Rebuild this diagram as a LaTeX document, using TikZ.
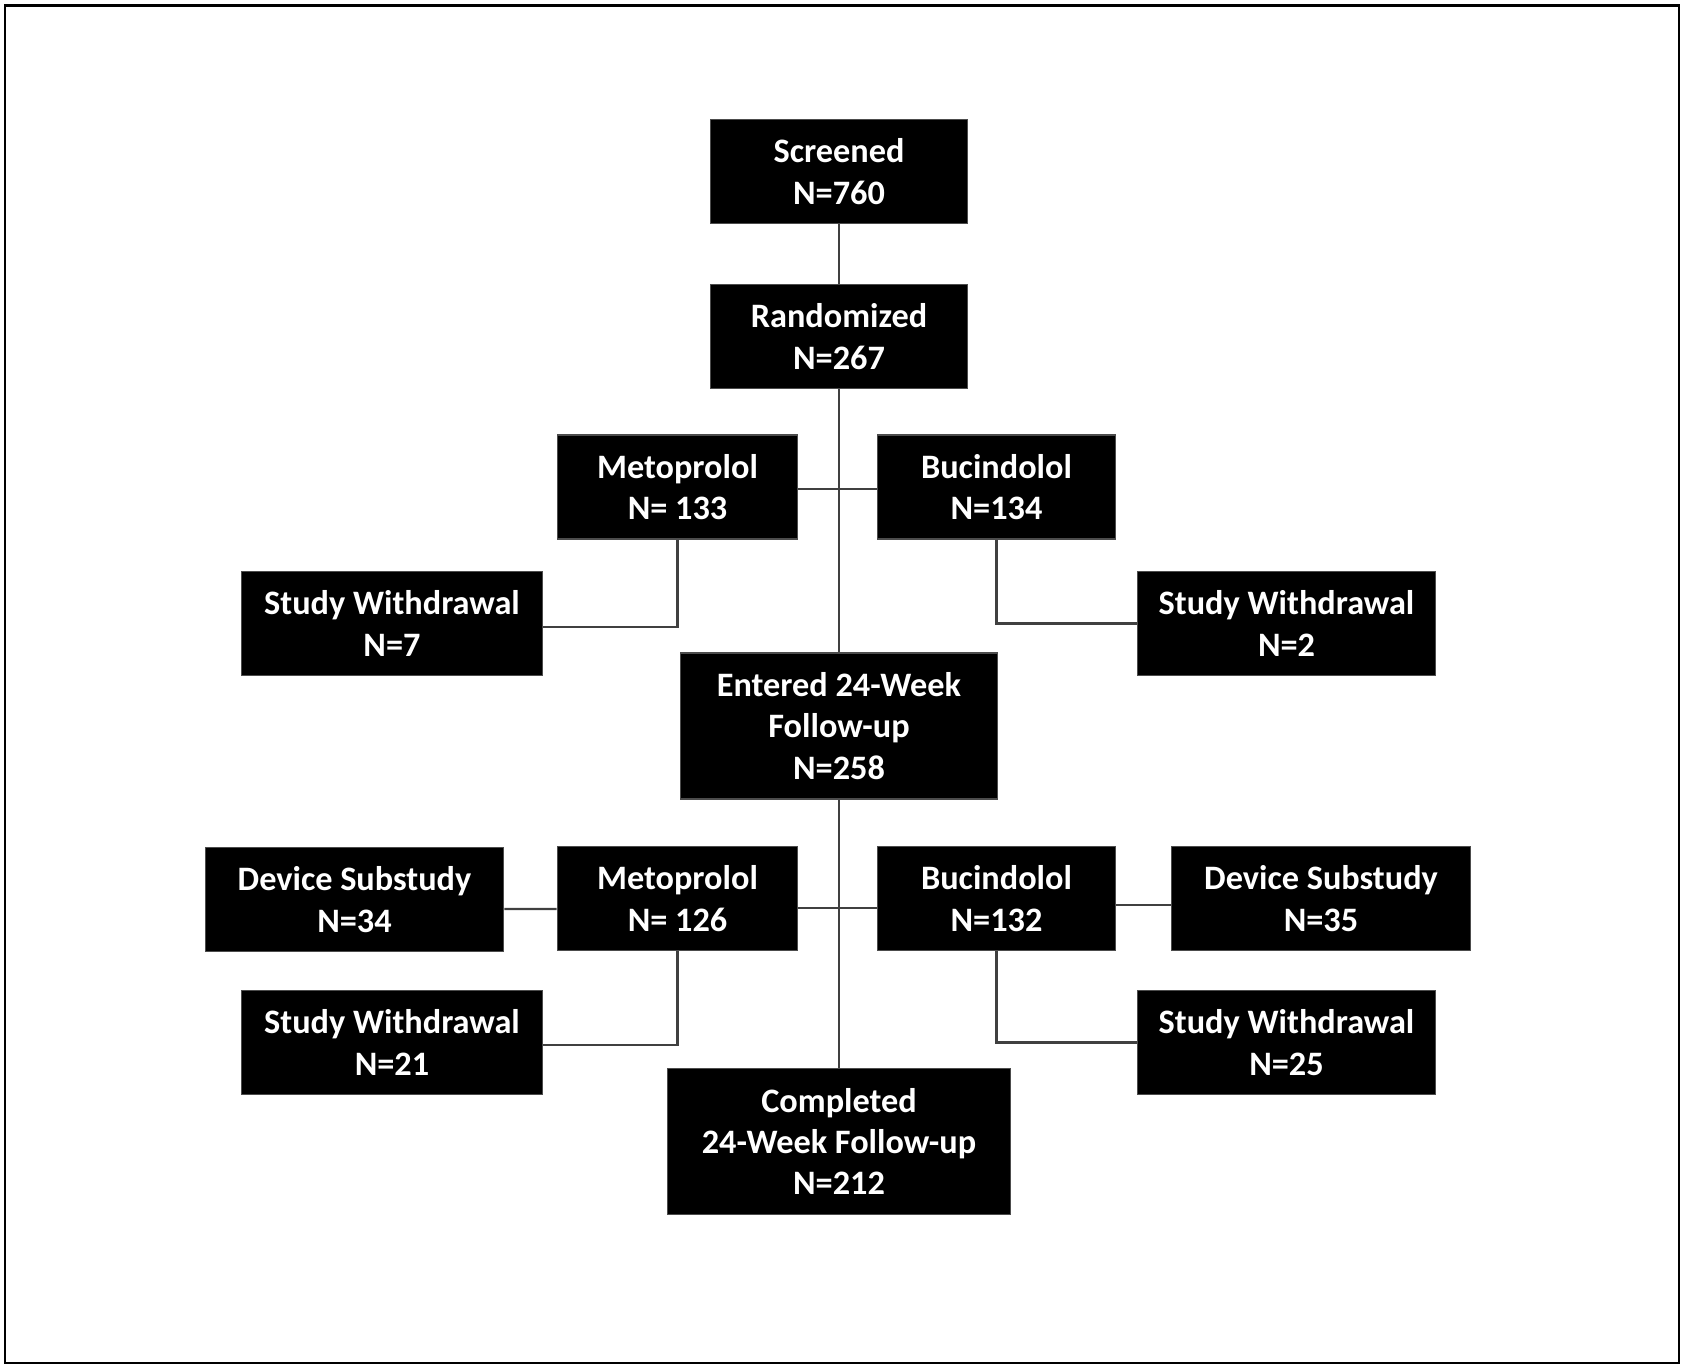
\documentclass[tikz,border=0pt]{standalone}
\usepackage{fontspec}
\setmainfont{Carlito}
\usepackage{tikz}
\usetikzlibrary{positioning}

\begin{document}
\begin{tikzpicture}[
  flowbox/.style={fill=black, draw=black!70, line width=0.6pt, text=white, align=center,
    inner sep=0pt, minimum height=2.08cm, font=\bfseries\fontsize{19.5}{23.6}\selectfont},
  tallbox/.style={flowbox, minimum height=2.92cm},
  link/.style={draw=black!75, line width=1.4pt}]
  % Marco
  \useasboundingbox (0,0) rectangle (33.68,27.36);
  \draw[line width=1.3pt] (0.1,0.1) rectangle (33.58,27.25);

  % Tronco central
  \node[flowbox, minimum width=5.15cm] (screen) at (16.78,23.93) {Screened\\N=760};
  \node[flowbox, minimum width=5.15cm] (rand) at (16.78,20.63) {Randomized\\N=267};
  \node[tallbox, minimum width=6.34cm] (entered) at (16.78,12.84) {Entered 24-Week\\Follow-up\\N=258};
  \node[tallbox, minimum width=6.87cm] (compl) at (16.78,4.53) {Completed\\24-Week Follow-up\\N=212};

  % Primera rama
  \node[flowbox, minimum width=4.81cm] (meto1) at (13.55,17.62) {Metoprolol\\N= 133};
  \node[flowbox, minimum width=4.77cm] (buci1) at (19.93,17.62) {Bucindolol\\N=134};
  \node[flowbox, minimum width=6.02cm] (wdr1) at (7.84,14.89) {Study Withdrawal\\N=7};
  \node[flowbox, minimum width=5.97cm] (wdr2) at (25.73,14.89) {Study Withdrawal\\N=2};

  % Segunda rama
  \node[flowbox, minimum width=4.81cm] (meto2) at (13.55,9.39) {Metoprolol\\N= 126};
  \node[flowbox, minimum width=4.77cm] (buci2) at (19.93,9.39) {Bucindolol\\N=132};
  \node[flowbox, minimum width=5.97cm] (dev1) at (7.09,9.37) {Device Substudy\\N=34};
  \node[flowbox, minimum width=5.97cm] (dev2) at (26.42,9.39) {Device Substudy\\N=35};
  \node[flowbox, minimum width=6.02cm] (wdr3) at (7.84,6.51) {Study Withdrawal\\N=21};
  \node[flowbox, minimum width=5.97cm] (wdr4) at (25.73,6.51) {Study Withdrawal\\N=25};

  % Conectores
  \draw[link] (screen.south) -- (rand.north);
  \draw[link] (rand.south) -- (entered.north);
  \draw[link] (entered.south) -- (compl.north);
  \draw[link] ([yshift=-0.04cm]meto1.east) -- ([yshift=-0.04cm]buci1.west);
  \draw[link] (meto1.south) |- ([yshift=-0.07cm]wdr1.east);
  \draw[link] (buci1.south) |- (wdr2.west);
  \draw[link] ([yshift=-0.19cm]meto2.east) -- ([yshift=-0.19cm]buci2.west);
  \draw[link] ([yshift=-0.19cm]dev1.east) -- ([yshift=-0.21cm]meto2.west);
  \draw[link] ([yshift=-0.13cm]buci2.east) -- ([yshift=-0.13cm]dev2.west);
  \draw[link] (meto2.south) |- ([yshift=-0.05cm]wdr3.east);
  \draw[link] (buci2.south) |- (wdr4.west);
\end{tikzpicture}
\end{document}
